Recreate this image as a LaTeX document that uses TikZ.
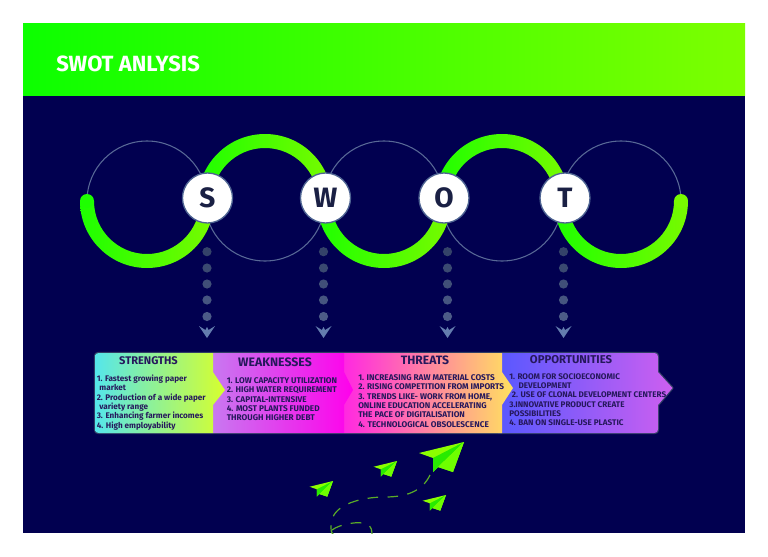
\documentclass[tikz,border=0pt]{standalone}
\usepackage{fontspec}
\setmainfont{Fira Sans}
\definecolor{navybg}{RGB}{1,0,80}
\definecolor{inkdark}{RGB}{38,24,92}
\definecolor{edgeslate}{RGB}{48,62,100}
\definecolor{ringthin}{RGB}{88,104,150}
\definecolor{greenleft}{RGB}{30,255,0}
\definecolor{greenright}{RGB}{120,250,0}
\definecolor{planelight}{RGB}{140,255,0}
\definecolor{planedark}{RGB}{40,235,0}
\definecolor{planemid}{RGB}{110,255,0}
\definecolor{pathgreen}{RGB}{90,170,40}
\definecolor{arrowblue}{RGB}{100,125,175}
\tikzset{
  letterdisc/.style={circle,draw={rgb,255:red,78;green,100;blue,146},line width=1pt,fill=white,minimum size=37.5pt,inner sep=0pt,font=\bfseries\fontsize{21}{21}\selectfont,text={rgb,255:red,26;green,32;blue,68}},
  stepdot/.style={circle,minimum size=6.9pt,inner sep=0pt},
  bodytext/.style={align=left,anchor=north west,inner sep=0pt,font=\bfseries\fontsize{6.1}{7}\selectfont,text=inkdark},
  capstext/.style={bodytext,font=\bfseries\fontsize{6.2}{7}\selectfont},
  headtext/.style={inner sep=0pt,font=\bfseries\fontsize{#1}{9}\selectfont,text=inkdark},
  thinring/.style={draw=ringthin,line width=0.8pt},
  arcshade/.style={left color=greenleft,right color=greenright}
}
\newcommand{\paperplane}[3]{%
  \begin{scope}[shift={(#1,#2)},scale=#3]
    \fill[planelight] (0,0) -- (-45,11) -- (-31,16) -- (-31,30) -- (-26,25) -- (-11,30) -- cycle;
    \fill[planedark] (0,0) -- (-31,16) -- (-31,30) -- (-26,25) -- cycle;
    \fill[planemid] (0,0) -- (-26,25) -- (-11,30) -- cycle;
  \end{scope}}
\begin{document}
\begin{tikzpicture}[x=0.75pt,y=0.75pt,yscale=-1,xscale=1]
\useasboundingbox (0,0) rectangle (768,557);

%Shape: Page
\fill[white] (0,0) rectangle (768,557);
%Shape: Rectangle
\fill[navybg] (23,95) rectangle (745,533);
%Shape: Header
\shade[left color={rgb,255:red,12;green,255;blue,0},right color={rgb,255:red,125;green,255;blue,0}] (23,23) rectangle (745,95);

% Text Node
\node (title) [anchor=west,inner sep=0pt,text=white,font=\bfseries\fontsize{16.5}{16.5}\selectfont] at (56,63.5) {SWOT ANLYSIS};

%Thin rings
\draw[thinring] (147,201) circle [radius=60];
\draw[thinring] (265,201) circle [radius=60];
\draw[thinring] (384,201) circle [radius=60];
\draw[thinring] (502,201) circle [radius=60];
\draw[thinring] (621,201) circle [radius=60];

%Green arcs
\shade[arcshade] (147,201) ++(180:67) arc [start angle=180,end angle=0,radius=67] -- ++(-14,0) arc [start angle=0,end angle=180,radius=53] -- cycle;
\fill[greenleft] (87,201) circle [radius=7];
\shade[arcshade] (265,201) ++(180:67) arc [start angle=180,end angle=360,radius=67] -- ++(-14,0) arc [start angle=360,end angle=180,radius=53] -- cycle;
\shade[arcshade] (384,201) ++(180:67) arc [start angle=180,end angle=0,radius=67] -- ++(-14,0) arc [start angle=0,end angle=180,radius=53] -- cycle;
\shade[arcshade] (502,201) ++(180:67) arc [start angle=180,end angle=360,radius=67] -- ++(-14,0) arc [start angle=360,end angle=180,radius=53] -- cycle;
\shade[arcshade] (621,201) ++(180:67) arc [start angle=180,end angle=0,radius=67] -- ++(-14,0) arc [start angle=0,end angle=180,radius=53] -- cycle;
\fill[greenright] (681,201) circle [radius=7];

% Text Node
\node (swot-s) [letterdisc] at (207.5,198) {S};
\node (swot-w) [letterdisc] at (325.5,198) {W};
\node (swot-o) [letterdisc] at (444,198) {O};
\node (swot-t) [letterdisc] at (565,198) {T};

%Dots and arrow heads
\foreach \name/\px in {s/207,w/323.5,o/447.5,t/563.5}{
  \foreach \dotid/\py/\mixval in {1/251.7/10,2/268/25,3/284/40,4/300/55,5/316.5/70}{
    \node (dot-\name-\dotid) [stepdot,fill=ringthin!\mixval!edgeslate] at (\px,\py) {};
  }
  \coordinate (tip-\name) at (\px,338);
  \fill[arrowblue] (tip-\name) -- ++(-8,-12) -- ++(6.4,4) -- ++(1.6,-3) -- ++(1.6,3) -- ++(6.4,-4) -- cycle;
}

%Shape: Outer edge
\draw[edgeslate,line width=1.8pt,line join=round] (99,353) -- (654,353) .. controls (657,353) and (658,354) .. (658,357) -- (658,372) -- (672.5,388) -- (658,405) -- (658,429) .. controls (658,432) and (657,433) .. (654,433) -- (99,433) .. controls (96,433) and (95,432) .. (95,429) -- (95,357) .. controls (95,354) and (96,353) .. (99,353) -- cycle;

%Shape: Opportunities
\shade[left color={rgb,255:red,88;green,88;blue,255},right color={rgb,255:red,205;green,95;blue,240}] (498,353) -- (654,353) .. controls (657,353) and (658,354) .. (658,357) -- (658,372) -- (672.5,388) -- (658,405) -- (658,429) .. controls (658,432) and (657,433) .. (654,433) -- (498,433) -- cycle;
%Shape: Threats
\shade[left color={rgb,255:red,255;green,40;blue,225},right color={rgb,255:red,255;green,225;blue,95}] (344,353) -- (502,353) -- (502,372) -- (513,388) -- (502,405) -- (502,433) -- (344,433) -- cycle;
%Shape: Weaknesses
\shade[left color={rgb,255:red,200;green,120;blue,240},right color={rgb,255:red,255;green,0;blue,235}] (213,353) -- (344,353) -- (344,372) -- (353,390) -- (344,405) -- (344,433) -- (213,433) -- cycle;
%Shape: Strengths
\shade[left color={rgb,255:red,85;green,230;blue,235},middle color={rgb,255:red,130;green,250;blue,130},right color={rgb,255:red,215;green,255;blue,45}] (99,353) -- (213,353) -- (213,372) -- (225,390) -- (213,405) -- (213,433) -- (99,433) .. controls (96,433) and (95,432) .. (95,429) -- (95,357) .. controls (95,354) and (96,353) .. (99,353) -- cycle;

% Text Node
\node (head-s) [headtext=8.3] at (148.5,360.5) {STRENGTHS};
\node (head-w) [headtext=9.2] at (275,362.5) {WEAKNESSES};
\node (head-t) [headtext=9.1] at (425,360) {THREATS};
\node (head-o) [headtext=8.5] at (571,359.5) {OPPORTUNITIES};
% Text Node
\node (body-s) [bodytext] at (96.5,374.5) {1. Fastest growing paper\\\hspace*{2pt}market\\2. Production of a wide paper\\\hspace*{2pt}variety range\\3. Enhancing farmer incomes\\4. High employability};
\node (body-w) [capstext] at (226.5,377.5) {1. LOW CAPACITY UTILIZATION\\2. HIGH WATER REQUIREMENT\\3. CAPITAL-INTENSIVE\\4. MOST PLANTS FUNDED\\THROUGH HIGHER DEBT};
\node (body-t) [capstext] at (358,374.5) {1. INCREASING RAW MATERIAL COSTS\\2. RISING COMPETITION FROM IMPORTS\\3. TRENDS LIKE- WORK FROM HOME,\\ONLINE EDUCATION ACCELERATING\\THE PACE OF DIGITALISATION\\4. TECHNOLOGICAL OBSOLESCENCE};
\node (body-o) [bodytext] at (509,373) {1. ROOM FOR SOCIOECONOMIC\\\hspace*{7pt}DEVELOPMENT\\\hspace*{2pt}2. USE OF CLONAL DEVELOPMENT CENTERS\\3.INNOVATIVE PRODUCT CREATE\\POSSIBILITIES\\4. BAN ON SINGLE-USE PLASTIC};

%Flight path
\begin{scope}
\clip (23,95) rectangle (745,533);
\draw[pathgreen,line width=0.9pt,dash pattern=on 8pt off 7pt] (430,475) .. controls (422,492) and (405,497) .. (385,497) .. controls (360,497) and (335,505) .. (332,520) .. controls (330,530) and (331,533) .. (334,535);
\draw[pathgreen,line width=0.9pt,dash pattern=on 8pt off 7pt] (332,530) .. controls (340,524) and (360,520) .. (369,525) .. controls (371,527) and (372,530) .. (372,535);
\end{scope}

%Paper planes
\paperplane{464}{442}{1}
\paperplane{397}{461}{0.52}
\paperplane{333}{481}{0.52}
\paperplane{446}{495}{0.52}
\end{tikzpicture}
\end{document}
